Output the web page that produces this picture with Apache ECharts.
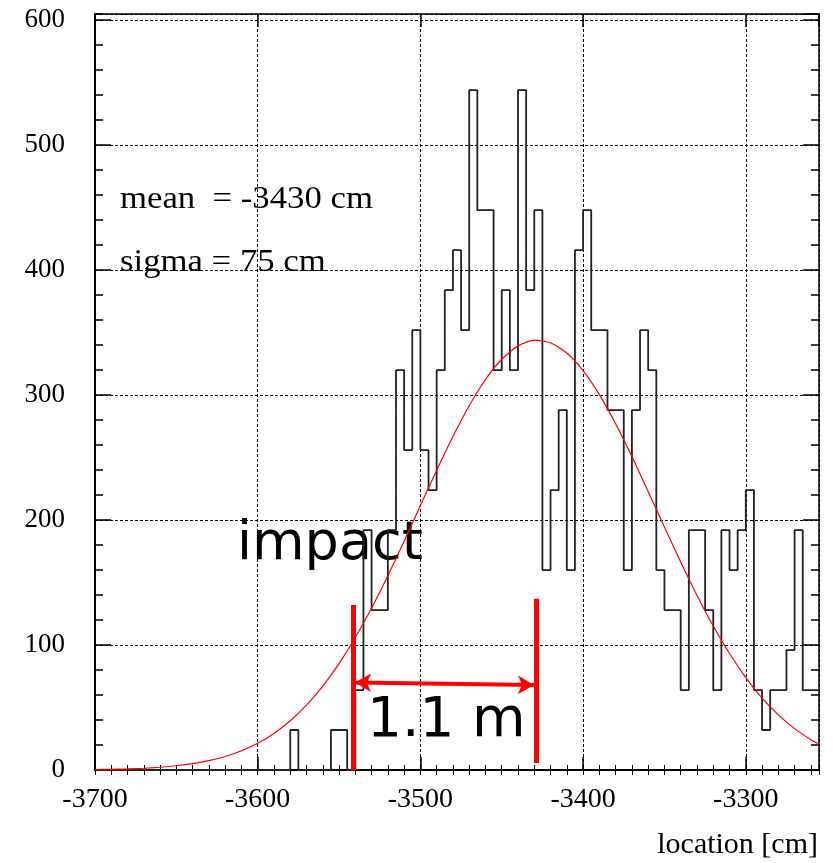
<!DOCTYPE html>
<html>
<head>
<meta charset="utf-8">
<script src="https://cdn.jsdelivr.net/npm/echarts@6/dist/echarts.min.js"></script>
<style>
  html,body{margin:0;padding:0;background:#fff}
  #chart{width:833px;height:863px}
</style>
</head>
<body>
<div id="chart"></div>
<script>
// histogram: 5 cm bins from -3700 to -3255 (counts)
var binStart = -3700
var binWidth = 5
var counts = [
  0,0,0,0,0,0,0,0,0,0,
  0,0,0,0,0,0,0,0,0,0,
  0,0,0,0,32,0,0,0,0,32,
  32,0,64,192,128,128,192,320,256,352,
  256,224,320,384,416,352,544,448,448,320,
  384,320,544,384,448,160,224,288,160,416,
  448,352,352,288,288,160,288,352,320,160,
  128,128,64,192,192,128,64,192,160,192,
  224,64,32,64,64,96,192,64,64
]
// gaussian fit curve, read at 10 cm steps
var fitX = [-3700,-3690,-3680,-3670,-3660,-3650,-3640,-3630,-3620,-3610,
  -3600,-3590,-3580,-3570,-3560,-3550,-3540,-3530,-3520,-3510,
  -3500,-3490,-3480,-3470,-3460,-3450,-3440,-3430,-3420,-3410,
  -3400,-3390,-3380,-3370,-3360,-3350,-3340,-3330,-3320,-3310,
  -3300,-3290,-3280,-3270,-3260,-3255]
var fitY = [0.3,0.6,0.9,1.4,2.2,3.4,5.1,7.5,10.8,15.4,
  21.4,29.3,39.4,51.9,67.1,85.1,106,129.6,155.5,183.1,
  211.6,239.9,266.9,291.5,312.5,328.7,339.4,344,341.9,333.7,
  319.6,300.4,277.1,250.9,222.9,194.4,166.4,139.7,115.2,93.2,
  74,57.6,44.1,33.1,24.3,20.8]
// tick labels
var xTickLabels = ['-3700','-3600','-3500','-3400','-3300']
var yTickLabels = ['0','100','200','300','400','500','600']
// annotation positions (data coords)
var impactX = -3541, meanX = -3428.6

var xMin = -3700, xMax = -3255, yMin = 0, yMax = 605

var histData = []
for (var i = 0; i < counts.length; i++) {
  histData.push([binStart + i * binWidth, counts[i]])
}
histData.push([binStart + counts.length * binWidth, counts[counts.length - 1]])

var fitData = fitX.map(function (x, i) { return [x, fitY[i]] })

var serif = '"Liberation Serif","Times New Roman",serif'
var sans = '"DejaVu Sans",Verdana,sans-serif'
var dotted = {show: true, lineStyle: {color: '#000', width: 1, type: [3, 2]}}

function xAx(opt) {
  return Object.assign({
    type: 'value', min: xMin, max: xMax, gridIndex: 0,
    axisLine: {show: false}, axisLabel: {show: false}, splitLine: {show: false},
    axisTick: {show: false}
  }, opt)
}
function yAx(opt) {
  return Object.assign({
    type: 'value', min: yMin, max: yMax, gridIndex: 0,
    axisLine: {show: false}, axisLabel: {show: false}, splitLine: {show: false},
    axisTick: {show: false}
  }, opt)
}

var option = {
  animation: false,
  backgroundColor: '#fff',
  grid: {left: 95, right: 14, top: 14, bottom: 93, outerBoundsMode: 'none', containLabel: false},
  xAxis: [
    xAx({ // main: labels, grid, major ticks
      position: 'bottom', interval: 100,
      axisLine: {show: true, onZero: false, lineStyle: {color: '#000', width: 2}},
      axisTick: {show: true, inside: true, length: 13, lineStyle: {color: '#000', width: 1.5}},
      splitLine: dotted,
      axisLabel: {
        show: true, margin: 16, color: '#000', fontSize: 28, fontFamily: serif,
        showMaxLabel: false,
        formatter: function (v) { return xTickLabels.indexOf(String(v)) >= 0 ? String(v) : '' }
      }
    }),
    xAx({position: 'bottom', interval: 10,
      axisTick: {show: true, inside: true, length: 5, lineStyle: {color: '#000', width: 1}}}),
    xAx({position: 'top', interval: 100,
      axisLine: {show: true, onZero: false, lineStyle: {color: '#000', width: 1.5}},
      axisTick: {show: true, inside: true, length: 13, lineStyle: {color: '#000', width: 1.5}}}),
    xAx({position: 'top', interval: 10,
      axisTick: {show: true, inside: true, length: 5, lineStyle: {color: '#000', width: 1}}})
  ],
  yAxis: [
    yAx({
      position: 'left', interval: 100,
      axisLine: {show: true, onZero: false, lineStyle: {color: '#000', width: 2}},
      axisTick: {show: true, inside: true, length: 16, lineStyle: {color: '#000', width: 1.5}},
      splitLine: dotted,
      axisLabel: {
        show: true, margin: 30, color: '#000', fontSize: 27, fontFamily: serif,
        showMaxLabel: false,
        formatter: function (v) { return yTickLabels.indexOf(String(v)) >= 0 ? String(v) : '' }
      }
    }),
    yAx({position: 'left', interval: 20,
      axisTick: {show: true, inside: true, length: 8, lineStyle: {color: '#000', width: 1.5}}}),
    yAx({position: 'right', interval: 100,
      axisLine: {show: true, onZero: false, lineStyle: {color: '#000', width: 1.5}},
      axisTick: {show: true, inside: true, length: 16, lineStyle: {color: '#000', width: 1.5}}}),
    yAx({position: 'right', interval: 20,
      axisTick: {show: true, inside: true, length: 8, lineStyle: {color: '#000', width: 1.5}}})
  ],
  series: [
    {
      name: 'hist', type: 'line', step: 'end', data: histData,
      xAxisIndex: 0, yAxisIndex: 0, symbol: 'none', silent: true, clip: true,
      lineStyle: {color: '#222', width: 1.8}
    },
    {
      name: 'fit', type: 'line', data: fitData, smooth: 0.2,
      xAxisIndex: 0, yAxisIndex: 0, symbol: 'none', silent: true,
      lineStyle: {color: '#ff0000', width: 1.2},
      markLine: {
        silent: true, symbol: ['none', 'none'], label: {show: false},
        lineStyle: {color: '#ff0000', width: 5, type: 'solid'},
        data: [
          [{coord: [impactX, 0]}, {coord: [impactX, 132]}],
          [{coord: [meanX, 5.6]}, {coord: [meanX, 137]}],
          [{coord: [-3540.2, 70], symbol: 'arrow', symbolSize: [14, 16], lineStyle: {width: 4}},
           {coord: [-3430.2, 68], symbol: 'arrow', symbolSize: [14, 16]}]
        ]
      }
    }
  ],
  graphic: [
    {type: 'text', left: 120, top: 184, scaleX: 1.12, style: {text: 'mean  = -3430 cm', font: '31px ' + serif, fill: '#000'}},
    {type: 'text', left: 120, top: 247, scaleX: 1.12, style: {text: 'sigma = 75 cm', font: '31px ' + serif, fill: '#000'}},
    {type: 'text', left: 237, top: 518, style: {text: 'impact', font: '54px ' + sans, fill: '#000'}},
    {type: 'text', left: 367, top: 694, style: {text: '1.1 m', font: '55px ' + sans, fill: '#000'}},
    {type: 'text', right: 15, top: 830, style: {text: 'location [cm]', font: '30px ' + serif, fill: '#000'}}
  ]
}

var chartObj = echarts.init(document.getElementById('chart'))
chartObj.setOption(option)
</script>
</body>
</html>
